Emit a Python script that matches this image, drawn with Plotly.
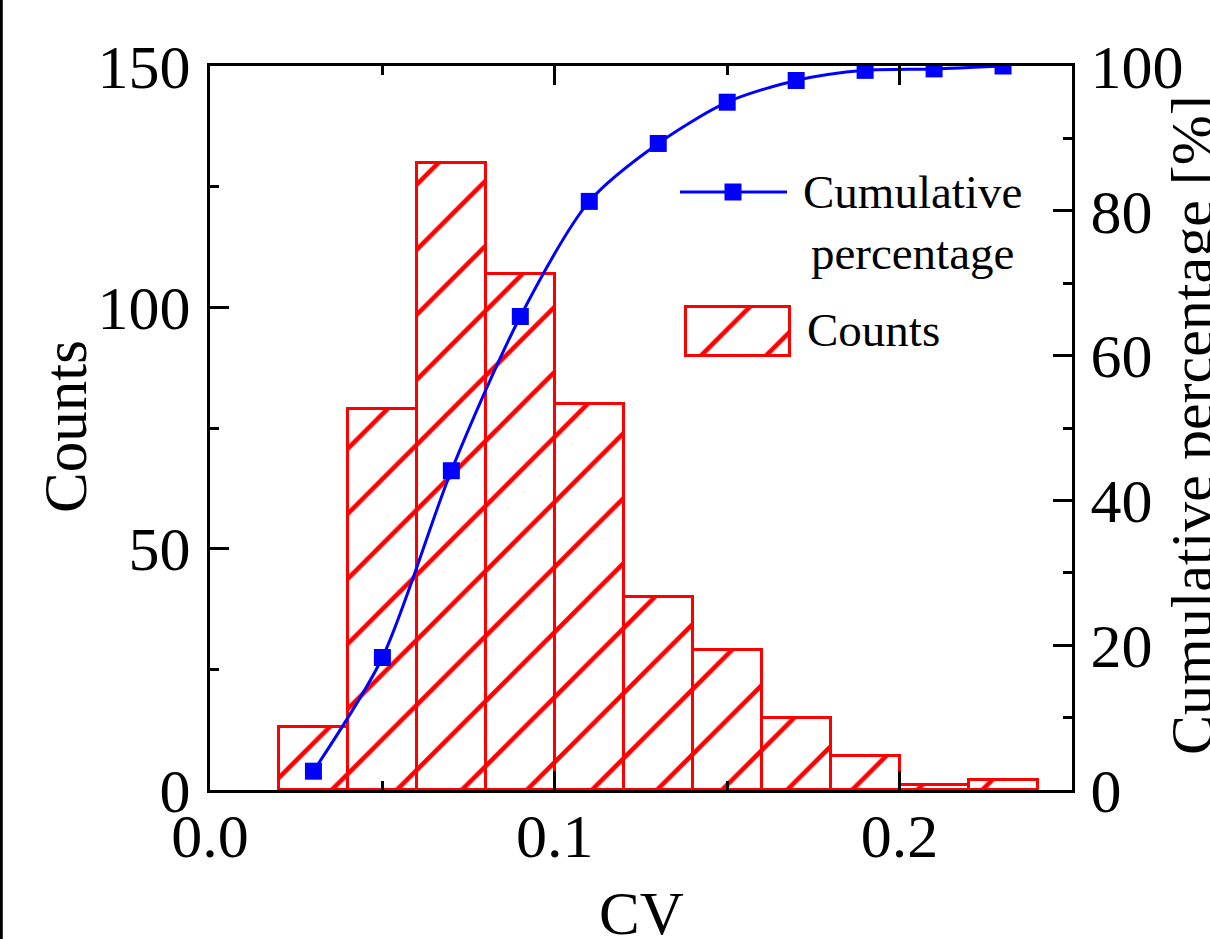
import plotly.graph_objects as go

# Data
bin_centers = [0.03, 0.05, 0.07, 0.09, 0.11, 0.13, 0.15, 0.17, 0.19, 0.21, 0.23]
counts = [13, 79, 130, 107, 80, 40, 29, 15, 7, 1, 2]
cumulative_pct = [2.6, 18.3, 44.1, 65.4, 81.3, 89.3, 95.0, 98.0, 99.4, 99.6, 100.0]
bin_width = 0.02

FONT = "Liberation Serif, Times New Roman, serif"
W, H = 1210, 939
L, R, T, B = 210, 138, 66, 149
pw, ph = W - L - R, H - T - B

RED_PATTERN = dict(shape="/", fgcolor="red", bgcolor="white", fgopacity=1, size=46, solidity=0.1)

fig = go.Figure()
fig.add_trace(go.Bar(
    x=bin_centers, y=counts, width=bin_width, name="Counts",
    marker=dict(color="white", line=dict(color="red", width=3), pattern=RED_PATTERN),
    xaxis="x", yaxis="y", showlegend=False,
))
fig.add_trace(go.Scatter(
    x=bin_centers, y=cumulative_pct, name="Cumulative percentage",
    mode="lines+markers", line=dict(color="#0000ff", width=3, shape="spline", smoothing=0.8),
    marker=dict(symbol="square", size=17, color="#0000ff"),
    xaxis="x", yaxis="y2", showlegend=False,
))

# ---- legend drawn on a helper axis measured in plot-area pixels ----
def lx(p):
    return p - L

def ly(p):
    return H - B - p

fig.add_trace(go.Scatter(
    x=[lx(680), lx(787)], y=[ly(192), ly(192)], mode="lines",
    line=dict(color="#0000ff", width=3), xaxis="x3", yaxis="y3",
    showlegend=False, hoverinfo="skip",
))
fig.add_trace(go.Scatter(
    x=[lx(733)], y=[ly(192)], mode="markers",
    marker=dict(symbol="square", size=17, color="#0000ff"), xaxis="x3", yaxis="y3",
    showlegend=False, hoverinfo="skip",
))
fig.add_trace(go.Bar(
    x=[lx(738)], y=[49], base=[ly(356)], width=[104],
    marker=dict(color="white", line=dict(color="red", width=3), pattern=RED_PATTERN),
    xaxis="x3", yaxis="y3", showlegend=False, hoverinfo="skip",
))

minor_style = dict(ticks="inside", ticklen=9, tickwidth=3, tickcolor="black")
axis_common = dict(
    showline=True, linewidth=3, linecolor="black", ticks="inside", ticklen=19,
    tickwidth=3, tickcolor="black", showgrid=False, zeroline=False,
    tickfont=dict(family=FONT, size=62, color="black"),
)

fig.update_layout(
    width=W, height=H, margin=dict(l=L, r=R, t=T, b=B),
    plot_bgcolor="white", paper_bgcolor="white", bargap=0,
    font=dict(family=FONT, color="black"),
    xaxis=dict(range=[0, 0.25], dtick=0.1, tickformat=".1f", mirror="ticks",
               minor=dict(dtick=0.05, **minor_style), ticklabelstandoff=-10, **axis_common),
    yaxis=dict(range=[0, 150], dtick=50,
               minor=dict(dtick=25, **minor_style), ticklabelstandoff=4, **axis_common),
    yaxis2=dict(range=[0, 100], dtick=20, overlaying="y", side="right",
                minor=dict(dtick=10, **minor_style), ticklabelstandoff=3, **axis_common),
    xaxis3=dict(range=[0, pw], overlaying="x", visible=False, fixedrange=True),
    yaxis3=dict(range=[0, ph], overlaying="y", visible=False, fixedrange=True),
    showlegend=False,
)

def px_x(p):
    return (p - L) / pw

def px_y(p):
    return (H - B - p) / ph

def text(t, x, y, size, angle=0, xanchor="center", align="center"):
    fig.add_annotation(text=t, x=px_x(x), y=px_y(y), xref="paper", yref="paper",
                       xanchor=xanchor, yanchor="middle", textangle=angle, align=align,
                       showarrow=False, font=dict(family=FONT, size=size, color="black"))

text("CV", 641, 913, 61)
text("Counts", 65, 427, 61, angle=-90)
text("Cumulative percentage [%]", 1192, 425, 60, angle=-90)
text("Cumulative<br>percentage", 912, 222, 47)
text("Counts", 805, 330, 47, xanchor="left")

fig.add_shape(type="line", xref="paper", yref="paper", x0=px_x(1.3), x1=px_x(1.3),
              y0=px_y(0), y1=px_y(H), line=dict(color="black", width=3))

fig.write_html("out.html", config={"displayModeBar": False},
               post_script="document.body.style.margin='0px';")
